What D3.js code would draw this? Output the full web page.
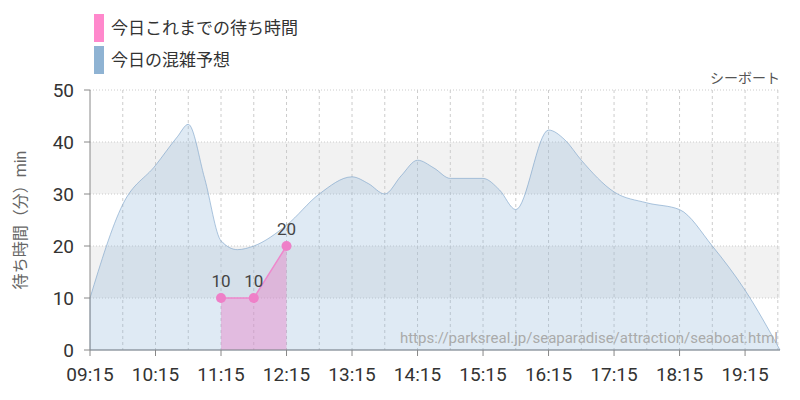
<!DOCTYPE html>
<html><head><meta charset="utf-8">
<script src="https://cdn.jsdelivr.net/npm/d3@7"></script>
<style>body{margin:0;background:#fff}</style></head>
<body><svg id="c" width="800" height="400"></svg>
<script>
const forecastTimes=["09:15","09:45","10:15","10:35","10:45","11:00","11:15","11:30","11:45","12:15","12:45","13:15","13:30","13:45","14:00","14:15","14:30","14:45","15:15","15:30","15:45","16:15","16:30","16:45","17:15","17:45","18:15","18:45","19:15","19:47"];
const forecastValues=[10,28,35.5,41,43.4,33,21,19.3,20,24,30,33.3,32,30,33.5,36.5,35,33,33,30.8,27,42.3,40.4,36.5,30.4,28.3,27,20,11.5,0];
const actualTimes=["11:15","11:45","12:15"];
const actualValues=[10,10,20];
const tickLabels=["09:15","10:15","11:15","12:15","13:15","14:15","15:15","16:15","17:15","18:15","19:15"];
const yTicks=[0,10,20,30,40,50];
const toMin=s=>{const[h,m]=s.split(":").map(Number);return h*60+m;};
const svg=d3.select("#c");
const L=90,R=780,T=90,B=350;
const x=d3.scaleLinear().domain([toMin("09:15"),toMin("19:47")]).range([L,R]);
const y=d3.scaleLinear().domain([0,50]).range([B,T]);
const font="Roboto, 'Noto Sans CJK JP', sans-serif";
[[10,20],[30,40]].forEach(([a,b])=>svg.append("rect").attr("x",L).attr("width",R-L).attr("y",y(b)).attr("height",y(a)-y(b)).attr("fill","#f2f2f2"));
yTicks.slice(1).forEach(v=>svg.append("line").attr("x1",L).attr("x2",R).attr("y1",y(v)).attr("y2",y(v)).attr("stroke","#ccc").attr("stroke-dasharray","1,2"));
for(let t=toMin("09:45");t<=toMin("19:45");t+=30)svg.append("line").attr("x1",x(t)).attr("x2",x(t)).attr("y1",T).attr("y2",B).attr("stroke","#ccc").attr("stroke-dasharray","3,3");
const fd=forecastTimes.map((t,i)=>[toMin(t),forecastValues[i]]);
svg.append("path").datum(fd).attr("d",d3.area().x(d=>x(d[0])).y0(y(0)).y1(d=>y(d[1])).curve(d3.curveMonotoneX)).attr("fill","rgba(140,180,215,0.28)").attr("stroke","rgba(120,160,200,0.6)").attr("stroke-width",1);
const ad=actualTimes.map((t,i)=>[toMin(t),actualValues[i]]);
svg.append("path").datum(ad).attr("d",d3.area().x(d=>x(d[0])).y0(y(0)).y1(d=>y(d[1]))).attr("fill","rgba(230,130,200,0.45)");
svg.append("path").datum(ad).attr("d",d3.line().x(d=>x(d[0])).y(d=>y(d[1]))).attr("fill","none").attr("stroke","#ee88cc").attr("stroke-width",1.5);
ad.forEach(d=>{svg.append("circle").attr("cx",x(d[0])).attr("cy",y(d[1])).attr("r",5).attr("fill","#ee80c8");
svg.append("text").attr("x",x(d[0])).attr("y",y(d[1])-11).attr("text-anchor","middle").attr("font-family",font).attr("font-size",17).attr("fill","#444").text(d[1]);});
svg.append("line").attr("x1",L).attr("x2",L).attr("y1",T).attr("y2",B).attr("stroke","#888");
svg.append("line").attr("x1",L).attr("x2",R).attr("y1",B).attr("y2",B).attr("stroke","#888");
yTicks.forEach(v=>{svg.append("text").attr("x",L-16).attr("y",y(v)+7).attr("text-anchor","end").attr("font-family",font).attr("font-size",19).attr("fill","#333").text(v);
svg.append("line").attr("x1",L-6).attr("x2",L).attr("y1",y(v)).attr("y2",y(v)).attr("stroke","#888");});
tickLabels.forEach(t=>{svg.append("text").attr("x",x(toMin(t))).attr("y",B+31).attr("text-anchor","middle").attr("font-family",font).attr("font-size",19).attr("fill","#333").text(t);
svg.append("line").attr("x1",x(toMin(t))).attr("x2",x(toMin(t))).attr("y1",B).attr("y2",B+6).attr("stroke","#888");});
svg.append("text").attr("transform",`translate(26,${(T+B)/2}) rotate(-90)`).attr("text-anchor","middle").attr("font-family",font).attr("font-size",16).attr("fill","#666").text("待ち時間（分）min");
svg.append("text").attr("x",780).attr("y",83).attr("text-anchor","end").attr("font-family",font).attr("font-size",14).attr("fill","#555").text("シーボート");
svg.append("text").attr("x",778).attr("y",343).attr("text-anchor","end").attr("font-family",font).attr("font-size",15).attr("fill","#aaa").text("https://parksreal.jp/seaparadise/attraction/seaboat.html");
[["#ff88cc","今日これまでの待ち時間",28],["#8fb3d3","今日の混雑予想",60]].forEach(([c,t,yy])=>{svg.append("rect").attr("x",94).attr("y",yy-14).attr("width",10).attr("height",28).attr("fill",c);
svg.append("text").attr("x",111).attr("y",yy+6).attr("font-family",font).attr("font-size",17).attr("fill","#333").text(t);});
</script></body></html>
